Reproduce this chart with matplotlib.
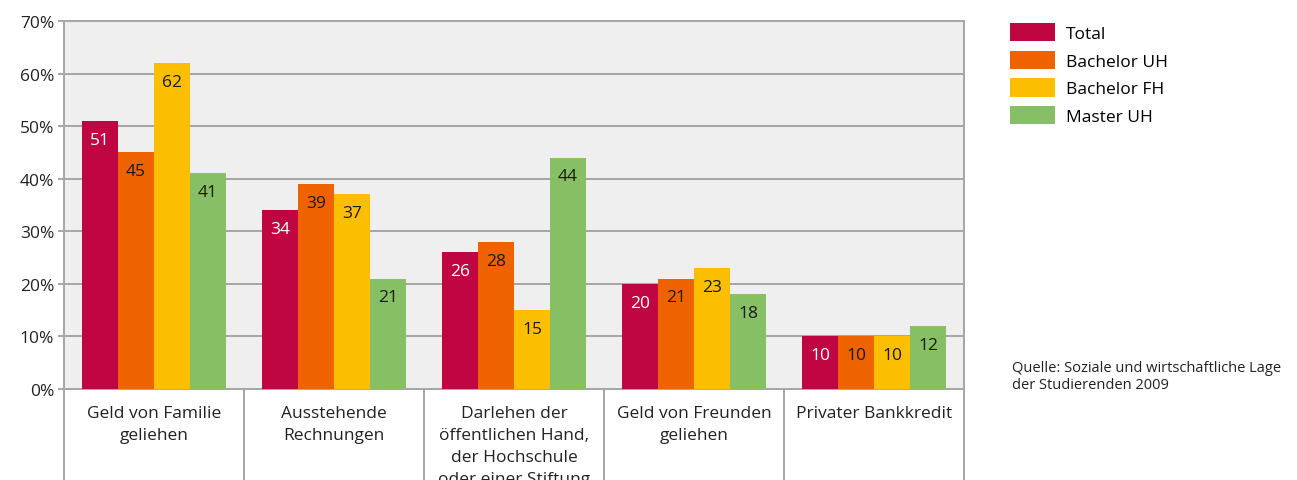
import numpy as np
import matplotlib.pyplot as plt

plt.rcParams['font.family'] = ['Open Sans', 'DejaVu Sans']

categories = [
    "Geld von Familie\ngeliehen",
    "Ausstehende\nRechnungen",
    "Darlehen der\nöffentlichen Hand,\nder Hochschule\noder einer Stiftung",
    "Geld von Freunden\ngeliehen",
    "Privater Bankkredit",
]
series_names = ["Total", "Bachelor UH", "Bachelor FH", "Master UH"]
total = [51, 34, 26, 20, 10]
bachelor_uh = [45, 39, 28, 21, 10]
bachelor_fh = [62, 37, 15, 23, 10]
master_uh = [41, 21, 44, 18, 12]
y_ticks = [0, 10, 20, 30, 40, 50, 60, 70]
source_note = "Quelle: Soziale und wirtschaftliche Lage\nder Studierenden 2009"

colors = ["#c00642", "#ee6300", "#fbbe00", "#86bf64"]
label_colors = ["white", "#1a1a1a", "#1a1a1a", "#1a1a1a"]
grid_gray = "#a6a6a6"

fig = plt.figure(figsize=(12.97, 4.81), dpi=100)
ax = fig.add_axes([64 / 1297, 91 / 481, 900 / 1297, 368 / 481])
ax.set_facecolor("#efefef")

values = [total, bachelor_uh, bachelor_fh, master_uh]
x = np.arange(len(categories)) + 0.5
width = 0.2
offsets = [-0.3, -0.1, 0.1, 0.3]

handles = []
for vals, off, col, lcol, name in zip(values, offsets, colors, label_colors, series_names):
    bars = ax.bar(x + off, vals, width=width, color=col, label=name, zorder=3)
    handles.append(bars)
    for b, v in zip(bars, vals):
        ax.annotate(str(v), (b.get_x() + b.get_width() / 2, v),
                    xytext=(0, -13.5), textcoords="offset points",
                    ha="center", va="center", fontsize=12.5, color=lcol, zorder=4)

ax.set_xlim(0, len(categories))
ax.set_ylim(0, 70)
ax.set_yticks(y_ticks)
ax.set_yticklabels([f"{t}%" for t in y_ticks], fontsize=12.5, color="#222222")
ax.set_xticks([])
ax.yaxis.grid(True, color=grid_gray, linewidth=1.4, zorder=1)
ax.tick_params(axis="y", length=4, width=1.4, color=grid_gray, pad=3)
for s in ax.spines.values():
    s.set_color(grid_gray)
    s.set_linewidth(1.4)

# separators and category labels below the plot area
# (the last line of the long label runs past the bottom edge)
for i in range(len(categories) + 1):
    ax.plot([i, i], [0, -0.26], transform=ax.get_xaxis_transform(),
            color=grid_gray, linewidth=1.4, clip_on=False, zorder=5)
for xi, cat in zip(x, categories):
    ax.text(xi, -0.043, cat, transform=ax.get_xaxis_transform(),
            ha="center", va="top", fontsize=12.5, color="#222222",
            linespacing=1.5, clip_on=False)

leg = fig.legend(handles=handles, labels=series_names, loc="upper left",
                 bbox_to_anchor=(1010 / 1297, 1 - 24 / 481), frameon=False,
                 fontsize=12.5, handlelength=2.6, handleheight=1.25,
                 labelspacing=0.5, handletextpad=0.63, borderpad=0,
                 borderaxespad=0)

fig.text(1012 / 1297, 1 - 361 / 481, source_note, ha="left", va="top",
         fontsize=10.5, color="#222222", linespacing=1.2)

fig.savefig("out.png", dpi=100)
